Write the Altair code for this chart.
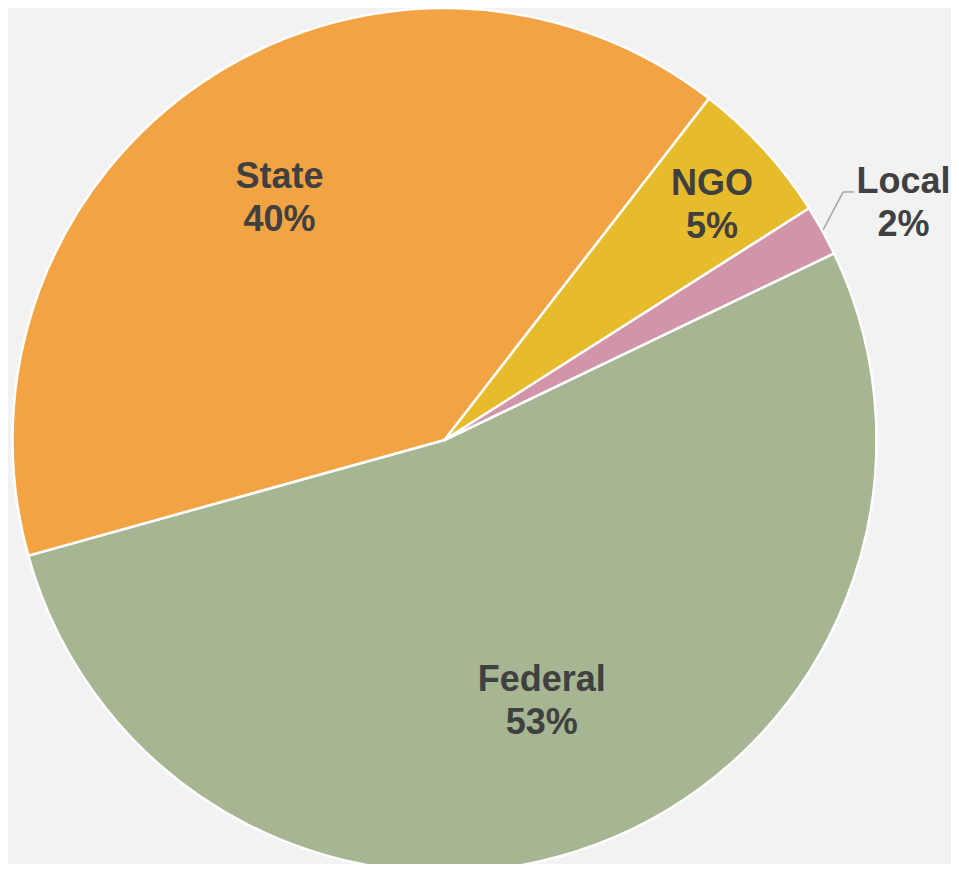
import math
import altair as alt
import pandas as pd

categories = ["Federal", "State", "NGO", "Local"]
values = [52.8, 39.8, 5.5, 1.9]
pct_labels = ["53%", "40%", "5%", "2%"]
colors = ["#A6B592", "#F2A445", "#E6BC2D", "#D194A8"]

df = pd.DataFrame({
    "cat": categories,
    "value": values,
    "pct": pct_labels,
    "order": list(range(len(categories))),
})

START = math.radians(64.4)
CX, CY, R = 436.5, 432.0, 432

base = (
    alt.Chart(df)
    .transform_window(cum="sum(value)", sort=[alt.SortField("order")], frame=[None, 0])
    .transform_joinaggregate(total="sum(value)")
    .transform_calculate(
        mid=f"{START} + 2*PI*(datum.cum - datum.value/2)/datum.total",
        label="datum.cat + '\\n' + datum.pct",
    )
)

arcs = alt.Chart(df).mark_arc(radius=R, stroke="white", strokeWidth=2.5).encode(
    theta=alt.Theta("value:Q", stack=True,
                    scale=alt.Scale(range=[START, START + 2 * math.pi])),
    order=alt.Order("order:Q"),
    color=alt.Color("cat:N", scale=alt.Scale(domain=categories, range=colors), legend=None),
    x=alt.value(CX),
    y=alt.value(CY),
)

text_style = dict(font="Liberation Sans", fontWeight="bold", fontSize=36,
                  color="#404040", lineBreak="\n", lineHeight=43,
                  align="center", baseline="middle")

labels = (
    base.transform_calculate(
        lr="datum.cat == 'Local' ? 525 : (datum.cat == 'NGO' ? 362 : (datum.cat == 'State' ? 296 : 277))",
        ldy="datum.cat == 'Local' ? 18.5 : (datum.cat == 'NGO' ? 9.5 : (datum.cat == 'State' ? 4.5 : 2.5))",
    )
    .transform_calculate(
        lx=f"{CX} + datum.lr*sin(datum.mid)",
        ly=f"{CY} - datum.lr*cos(datum.mid) + datum.ldy - 21.5",
    )
    .mark_text(**text_style)
    .encode(
        x=alt.X("lx:Q", scale=None, axis=None),
        y=alt.Y("ly:Q", scale=None, axis=None),
        text="label:N",
    )
)

leader_base = base.transform_filter("datum.cat == 'Local'").transform_calculate(
    x1=f"{CX} + {R + 1}*sin(datum.mid)",
    y1=f"{CY} - {R + 1}*cos(datum.mid)",
).transform_calculate(
    x2="datum.x1 + 20",
    y2="datum.y1 - 38",
).transform_calculate(
    x3="datum.x2 + 11",
)

leader1 = leader_base.mark_rule(color="#A6A6A6", strokeWidth=1.5).encode(
    x=alt.X("x1:Q", scale=None, axis=None),
    y=alt.Y("y1:Q", scale=None, axis=None),
    x2="x2:Q",
    y2="y2:Q",
)
leader2 = leader_base.mark_rule(color="#A6A6A6", strokeWidth=1.5).encode(
    x=alt.X("x2:Q", scale=None, axis=None),
    y=alt.Y("y2:Q", scale=None, axis=None),
    x2="x3:Q",
)

chart = (
    alt.layer(arcs, leader1, leader2, labels)
    .properties(width=943, height=856, padding=0, autosize="none", background="#F2F2F2")
    .configure_view(stroke=None)
)

chart.save("out.html", embed_options={"renderer": "svg", "actions": False})
